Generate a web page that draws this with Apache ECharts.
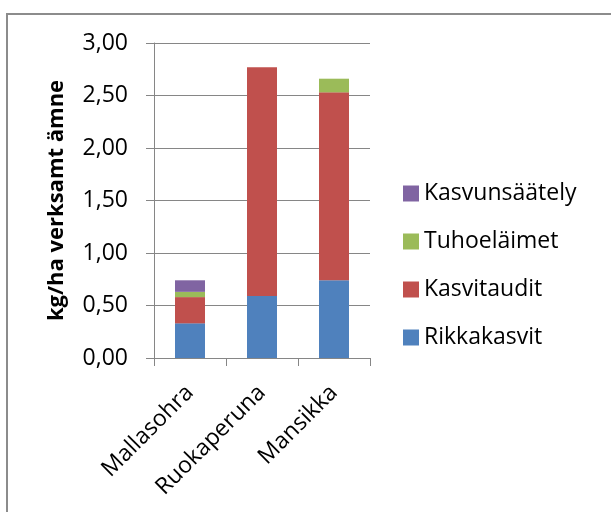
<!DOCTYPE html>
<html>
<head>
<meta charset="utf-8">
<script src="https://cdn.jsdelivr.net/npm/echarts@6/dist/echarts.min.js"></script>
<style>
html, body { margin: 0; padding: 0; background: #fff; }
#chart { width: 611px; height: 512px; }
</style>
</head>
<body>
<div id="chart"></div>
<script>
'use strict'

var crops = ['Mallasohra', 'Ruokaperuna', 'Mansikka'];
var rikkakasvit = [0.33, 0.59, 0.74];
var kasvitaudit = [0.25, 2.18, 1.79];
var tuhoelaimet = [0.05, 0, 0.13];
var kasvunsaately = [0.11, 0, 0];
var legendOrder = ['Kasvunsäätely', 'Tuhoeläimet', 'Kasvitaudit', 'Rikkakasvit'];

var font = '"Open Sans", "Liberation Sans", sans-serif';
var gray = '#868686';

var myChart = echarts.init(document.getElementById('chart'));

function bar(name, data, color) {
    return {
        name: name,
        type: 'bar',
        stack: 'total',
        barWidth: 30,
        data: data,
        itemStyle: { color: color }
    };
}

var option = {
    animation: false,
    textStyle: { fontFamily: font },
    graphic: [{
        type: 'rect',
        shape: { x: 7, y: 14, width: 700, height: 600 },
        style: { fill: 'none', stroke: '#8c8c8c', lineWidth: 2 },
        silent: true
    }],
    grid: { left: 154, right: 241, top: 43, bottom: 154 },
    legend: {
        orient: 'vertical',
        left: 403,
        top: 182,
        padding: 0,
        itemWidth: 16,
        itemHeight: 16,
        itemGap: 25,
        icon: 'rect',
        data: legendOrder,
        textStyle: { fontFamily: font, fontSize: 23, color: '#000' }
    },
    xAxis: {
        type: 'category',
        data: crops,
        axisLine: { lineStyle: { color: gray, width: 1 } },
        axisTick: { show: true, length: 8, lineStyle: { color: gray } },
        axisLabel: { rotate: 45, margin: 31, fontSize: 23, color: '#000', fontFamily: font }
    },
    yAxis: {
        type: 'value',
        min: 0,
        max: 3,
        interval: 0.5,
        name: 'kg/ha verksamt ämne',
        nameLocation: 'middle',
        nameGap: 86,
        nameTextStyle: { fontSize: 22, fontWeight: 'bold', color: '#000', fontFamily: font },
        axisLine: { show: true, lineStyle: { color: gray, width: 1 } },
        axisTick: { show: true, length: 8, lineStyle: { color: gray } },
        splitLine: { lineStyle: { color: gray, width: 1 } },
        axisLabel: {
            margin: 26,
            fontSize: 23,
            color: '#000',
            fontFamily: font,
            formatter: function (v) { return v.toFixed(2).replace('.', ','); }
        }
    },
    series: [
        bar('Rikkakasvit', rikkakasvit, '#4F81BD'),
        bar('Kasvitaudit', kasvitaudit, '#C0504D'),
        bar('Tuhoeläimet', tuhoelaimet, '#9BBB59'),
        bar('Kasvunsäätely', kasvunsaately, '#8064A2')
    ]
};

myChart.setOption(option);
</script>
</body>
</html>
